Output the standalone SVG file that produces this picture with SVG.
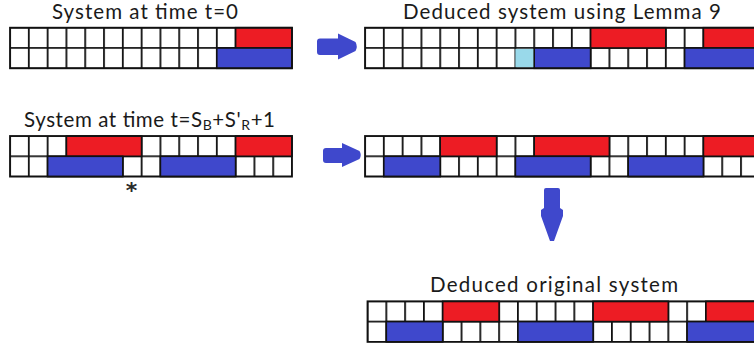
<svg xmlns="http://www.w3.org/2000/svg" width="754" height="347" viewBox="0 0 754 347">
<defs>
<pattern id="cells" x="-0.9" y="-0.9" width="18.8" height="20.3" patternUnits="userSpaceOnUse">
<rect width="18.8" height="20.3" fill="#fff"/>
<path d="M0.9 0V20.3M0 0.9H18.8" stroke="#111" stroke-width="1.8" fill="none"/>
</pattern>
</defs>
<style>
.bg{fill:url(#cells)}
.frame{fill:none;stroke:#111;stroke-width:1.8}
.r{fill:#ED1C24;stroke:#111;stroke-width:1.6}
.b{fill:#3F48CC;stroke:#111;stroke-width:1.6}
.lb{fill:#99D9EA;stroke:none}
.t{font-family:Lato,"Open Sans","Liberation Sans",sans-serif;font-size:20.5px;fill:#1a1a1a}
.ast{font-family:"DejaVu Sans",sans-serif;font-size:22px;font-weight:bold;fill:#2a2a2a}
.arr{fill:#3F48CC}
</style>
<rect width="754" height="347" fill="#fff"/>

<g id="sys-t0">
<text class="t" x="52" y="19" textLength="186">System at time t=0</text>
<g transform="translate(10,27.7)">
<rect class="bg" width="282" height="40.6"/>
<rect class="r" x="225.6" y="0" width="56.4" height="20.3"/>
<rect class="b" x="206.8" y="20.3" width="75.2" height="20.3"/>
<rect class="frame" width="282" height="40.6"/>
</g>
</g>

<g id="sys-lemma9">
<text class="t" x="403" y="19" textLength="318">Deduced system using Lemma 9</text>
<g transform="translate(365,27.7)">
<rect class="bg" width="394.8" height="40.6"/>
<rect class="r" x="225.6" y="0" width="75.2" height="20.3"/>
<rect class="r" x="338.4" y="0" width="56.4" height="20.3"/>
<rect class="lb" x="150.4" y="21.2" width="18.8" height="18.5"/>
<rect class="b" x="169.2" y="20.3" width="56.4" height="20.3"/>
<rect class="b" x="319.6" y="20.3" width="75.2" height="20.3"/>
<rect class="frame" width="394.8" height="40.6"/>
</g>
</g>

<g id="sys-tsb">
<text class="t" x="24" y="126.7" textLength="251">System at time t=S<tspan font-size="14" dy="3">B</tspan><tspan dy="-3">+S'</tspan><tspan font-size="14" dy="3">R</tspan><tspan dy="-3">+1</tspan></text>
<g transform="translate(10,136)">
<rect class="bg" width="282" height="40.6"/>
<rect class="r" x="56.4" y="0" width="75.2" height="20.3"/>
<rect class="r" x="225.6" y="0" width="56.4" height="20.3"/>
<rect class="b" x="37.6" y="20.3" width="75.2" height="20.3"/>
<rect class="b" x="150.4" y="20.3" width="75.2" height="20.3"/>
<rect class="frame" width="282" height="40.6"/>
</g>
<text class="ast" x="131.5" y="198" text-anchor="middle">*</text>
</g>

<g id="sys-deduced2">
<g transform="translate(365,136)">
<rect class="bg" width="394.8" height="40.6"/>
<rect class="r" x="75.2" y="0" width="56.4" height="20.3"/>
<rect class="r" x="169.2" y="0" width="75.2" height="20.3"/>
<rect class="r" x="338.4" y="0" width="56.4" height="20.3"/>
<rect class="b" x="18.8" y="20.3" width="56.4" height="20.3"/>
<rect class="b" x="150.4" y="20.3" width="75.2" height="20.3"/>
<rect class="b" x="263.2" y="20.3" width="75.2" height="20.3"/>
<rect class="frame" width="394.8" height="40.6"/>
</g>
</g>

<g id="sys-original">
<text class="t" x="430" y="291.7" textLength="248">Deduced original system</text>
<g transform="translate(367.5,301.3)">
<rect class="bg" width="394.8" height="40.6"/>
<rect class="r" x="75.2" y="0" width="56.4" height="20.3"/>
<rect class="r" x="225.6" y="0" width="75.2" height="20.3"/>
<rect class="r" x="338.4" y="0" width="56.4" height="20.3"/>
<rect class="b" x="18.8" y="20.3" width="56.4" height="20.3"/>
<rect class="b" x="150.4" y="20.3" width="75.2" height="20.3"/>
<rect class="b" x="319.6" y="20.3" width="75.2" height="20.3"/>
<rect class="frame" width="394.8" height="40.6"/>
</g>
</g>

<g id="connectors">
<path class="arr" d="M320 38.5H338V33.5L355.5 42Q358 46.5 355.5 51L338 59.5V55H320Q317 55 317 52V41.5Q317 38.5 320 38.5Z"/>
<path class="arr" d="M326 148H342V143L359.5 151Q362 155 359.5 159L342 167V163H326Q323 163 323 160V151Q323 148 326 148Z"/>
<path class="arr" d="M546 188H558Q560 188 560 190V208L563 210V216L554 241H550L541 216V210L544 208V190Q544 188 546 188Z"/>
</g>
</svg>
